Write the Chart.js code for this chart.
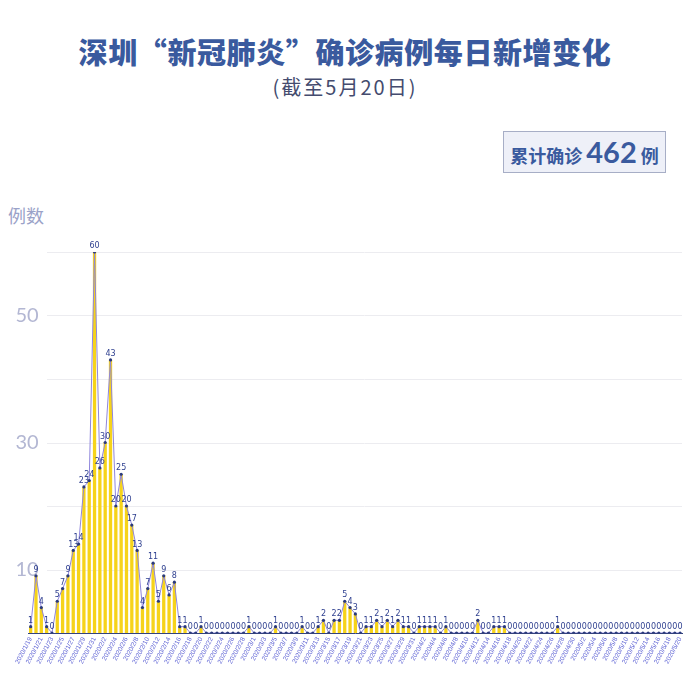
<!DOCTYPE html>
<html>
<head>
<meta charset="utf-8">
<script src="https://cdn.jsdelivr.net/npm/chart.js@4.4.1/dist/chart.umd.min.js"></script>
<style>
  html,body{margin:0;padding:0;background:#fff;}
  body{width:690px;height:691px;position:relative;overflow:hidden;font-family:"Noto Sans CJK SC","Noto Sans",sans-serif;}
  #title{position:absolute;left:0;width:690px;top:30px;text-align:center;font-size:29px;font-weight:900;color:#3a5a9e;letter-spacing:0.6px;}
  #sub{position:absolute;left:0;width:690px;top:72px;text-align:center;font-size:20px;color:#444b6e;letter-spacing:2px;}
  #total{position:absolute;left:503px;top:131px;width:163px;height:42px;background:#eef0f8;border:1px solid #a7aec6;box-sizing:border-box;color:#3a5a9e;font-weight:700;font-size:18px;line-height:40px;text-align:center;}
  #total b{font-size:29px;font-family:"Lato","Noto Sans",sans-serif;font-weight:700;margin:0 4px;}
  #ytitle{position:absolute;left:8px;top:202px;font-size:18px;color:#9aa2c8;}
  #wrap{position:absolute;left:0;top:238px;width:690px;height:453px;}
</style>
</head>
<body>
<div id="title">深圳“新冠肺炎”确诊病例每日新增变化</div>
<div id="sub">(截至5月20日)</div>
<div id="total">累计确诊<b>462</b>例</div>
<div id="ytitle">例数</div>
<div id="wrap"><canvas id="c" width="690" height="453"></canvas></div>
<script>
// categories: 2020-01-19 .. 2020-05-20
const startDate = [2020, 1, 19];
const monthDays = {1: 31, 2: 29, 3: 31, 4: 30, 5: 31};
const endDate = [2020, 5, 20];
const dates = [];
(function(){
  let m = startDate[1], d = startDate[2];
  while (true) {
    dates.push("2020/" + m + "/" + d);
    if (m === endDate[1] && d === endDate[2]) break;
    d++;
    if (d > monthDays[m]) { d = 1; m++; }
  }
})();

// daily new confirmed cases
const janFeb = [1,9,4,1,0,5,7,9,13,14,23,24,60,26,30,43,20,25,20,17,13,4,7,11,5,9,6,8,1,1];
const febMar = [0,0,1,0,0,0,0,0,0,0,0,1,0,0,0,0,1,0,0,0,0,1,0,0];
const marApr = [1,2,0,2,2,5,4,3,0,1,1,2,1,2,1,2,1,1,0,1,1,1,1,0,1,0,0,0,0,0,2,0,0,1,1,1];
const aprMay = [0,0,0,0,0,0,0,0,0,1,0,0,0,0,0,0,0,0,0,0,0,0,0,0,0,0,0,0,0,0,0,0,0];
const newCases = janFeb.concat(febMar, marApr, aprMay);

const yTickLabels = [10, 30, 50];
const gridValues = [10, 20, 30, 40, 50, 60];

const overlay = {
  id: 'overlay',
  beforeDatasetsDraw(chart) {
    const ctx = chart.ctx, y = chart.scales.y;
    ctx.save();
    ctx.strokeStyle = '#ececf0';
    ctx.lineWidth = 1;
    gridValues.forEach(v => {
      const py = Math.round(y.getPixelForValue(v)) + 0.5;
      ctx.beginPath(); ctx.moveTo(47, py); ctx.lineTo(682, py); ctx.stroke();
    });
    ctx.fillStyle = '#b3b7d3';
    ctx.font = '20px Lato, "Noto Sans", sans-serif';
    ctx.textAlign = 'center';
    ctx.textBaseline = 'middle';
    yTickLabels.forEach(v => {
      ctx.fillText(String(v), 27, y.getPixelForValue(v));
    });
    ctx.restore();
  },
  afterDatasetsDraw(chart) {
    const ctx = chart.ctx;
    const meta = chart.getDatasetMeta(1);
    ctx.save();
    ctx.fillStyle = '#2e3f8f';
    ctx.font = '8px "DejaVu Sans", sans-serif';
    ctx.textAlign = 'center';
    ctx.textBaseline = 'bottom';
    meta.data.forEach((pt, i) => {
      ctx.fillText(String(newCases[i]), pt.x, pt.y - 2);
    });
    ctx.restore();
  }
};

new Chart(document.getElementById('c'), {
  data: {
    labels: dates,
    datasets: [
      {
        type: 'bar', data: newCases, backgroundColor: '#f6d31a', borderWidth: 0,
        barPercentage: 0.62, categoryPercentage: 1.0, order: 2
      },
      {
        type: 'line', data: newCases, borderColor: '#8f86dc', borderWidth: 1,
        pointRadius: 1.6, pointBackgroundColor: '#2a3a7c', pointBorderWidth: 0,
        tension: 0, fill: false, order: 1
      }
    ]
  },
  options: {
    responsive: false,
    animation: false,
    events: [],
    layout: { padding: { top: 14, right: 3, left: 0, bottom: 0 } },
    plugins: { legend: { display: false }, tooltip: { enabled: false }, title: { display: false } },
    scales: {
      x: {
        type: 'category',
        offset: true,
        grid: { display: false, drawTicks: false },
        border: { display: true, color: '#33427e', width: 1 },
        ticks: {
          autoSkip: false, minRotation: 62, maxRotation: 62, padding: 3,
          color: '#5d62d4', font: { size: 6.5 },
          callback: function(v, i) { return i % 2 === 0 ? dates[i] : ''; }
        },
        afterFit(s) { s.height = 58; }
      },
      y: {
        min: 0, max: 60,
        grid: { display: false },
        border: { display: false },
        ticks: { display: false, stepSize: 10 },
        afterFit(s) { s.width = 28; }
      }
    }
  },
  plugins: [overlay]
});
</script>
</body>
</html>
